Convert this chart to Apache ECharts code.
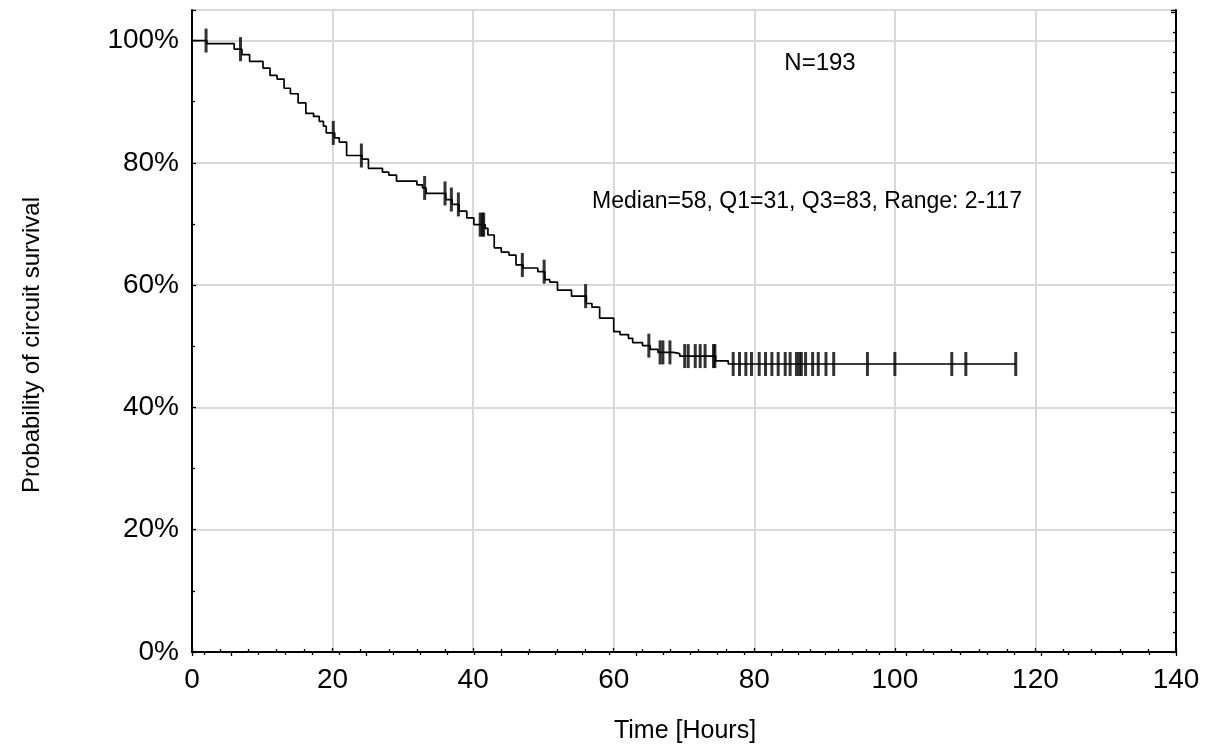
<!DOCTYPE html>
<html>
<head>
<meta charset="utf-8">
<script src="https://cdn.jsdelivr.net/npm/echarts@6/dist/echarts.min.js"></script>
<style>
  html, body { margin: 0; padding: 0; background: #fff; }
  #chart { width: 1213px; height: 749px; }
</style>
</head>
<body>
<div id="chart"></div>
<script>
// Kaplan-Meier step points: time (hours) and survival (%) after each drop
var kmTimes = [0, 2.1, 6, 7.1, 8.2, 10.1, 11.1, 12.1, 13.1, 14, 15.1, 16.2, 17.3, 18.1, 18.7,
  19.1, 20.3, 20.95, 22, 24.2, 25.1, 27.1, 28, 29.1, 32, 32.8, 33.3, 36.1, 37, 38,
  39.1, 40.1, 41.7, 42.1, 43, 44, 45.1, 46.1, 47.1, 49.2, 50.2, 50.9, 52, 54, 56.1,
  56.9, 58, 60, 60.9, 62.1, 62.7, 64.1, 65.2, 66.3, 68.5, 69.4, 74.5, 76.3, 117.2];
var kmSurv = [100, 99.5, 98.6, 97.7, 96.6, 95.5, 94.3, 93.7, 92.2, 91.3, 89.8, 88.1, 87.6, 86.8, 86.0,
  84.9, 84.1, 83.4, 81.2, 80.6, 79.1, 78.5, 78.0, 77.0, 76.4, 75.9, 75.0, 74.0, 73.2, 72.1,
  71.0, 69.9, 69.3, 68.2, 66.1, 65.4, 64.9, 63.3, 62.8, 62.2, 60.9, 60.5, 59.2, 58.2, 57.0,
  56.4, 54.6, 52.4, 51.9, 51.3, 50.6, 50.1, 49.5, 49.0, 48.8, 48.4, 47.6, 47.1, 47.1];
// Censored observation times (hours)
var censorTimes = [2, 6.9, 20.1, 24.1, 33.1, 36, 36.9, 37.9, 41, 41.3, 41.5, 47, 50.1, 56, 65,
  66.6, 67, 68, 70.1, 70.6, 71.6, 72.3, 73, 74.2, 74.4, 77.0, 77.9, 78.8, 79.6, 80.7,
  81.6, 82.5, 83.4, 84.4, 85.1, 86.0, 86.4, 86.7, 87.3, 88.3, 89.1, 90.2, 91.3, 96.1,
  100.0, 108.1, 110.1, 117.2];
var xTicks = [0, 20, 40, 60, 80, 100, 120, 140];
var yTicks = [0, 20, 40, 60, 80, 100];
var annotN = 'N=193';
var annotStats = 'Median=58, Q1=31, Q3=83, Range: 2-117';

function survAt(t) {
  var s = kmSurv[0];
  for (var i = 0; i < kmTimes.length; i++) { if (kmTimes[i] <= t) s = kmSurv[i]; }
  return s;
}
var lineData = kmTimes.map(function (t, i) { return [t, kmSurv[i]]; });
var censorData = censorTimes.map(function (t) { return [t, survAt(t)]; });

var FONT = '"Liberation Sans", Arial, sans-serif';
var chart = echarts.init(document.getElementById('chart'), null, { renderer: 'canvas' });
chart.setOption({
  backgroundColor: '#fff',
  animation: false,
  grid: { left: 192, right: 37, top: 10, bottom: 97, containLabel: false },
  xAxis: [{
    type: 'value', min: 0, max: 140, interval: 20, position: 'bottom',
    axisLine: { lineStyle: { color: '#000', width: 2 } },
    axisTick: { inside: true, length: 4, lineStyle: { color: '#000', width: 1.3 } },
    minorTick: { show: true, splitNumber: 5, length: 3, lineStyle: { color: '#000', width: 1.3 } },
    axisLabel: { color: '#000', fontSize: 28, fontFamily: FONT, margin: 14,
      formatter: function (v) { return xTicks.indexOf(v) >= 0 ? String(v) : ''; } },
    splitLine: { show: true, lineStyle: { color: '#d9d9d9', width: 2 } }
  }, {
    type: 'value', position: 'top', inverse: true, min: 0, max: 36.44, interval: 5,
    axisLine: { show: true, lineStyle: { color: '#000', width: 2 } },
    axisTick: { show: true, inside: true, length: 4, lineStyle: { color: '#000', width: 1.3 } },
    minorTick: { show: true, splitNumber: 5, length: 3, lineStyle: { color: '#000', width: 1.3 } },
    axisLabel: { show: false }, splitLine: { show: false }
  }],
  yAxis: [{
    type: 'value', min: 0, max: 105, interval: 20, position: 'left',
    axisLine: { show: true, lineStyle: { color: '#000', width: 2 } },
    axisTick: { show: true, inside: true, length: 4, lineStyle: { color: '#000', width: 1.3 } },
    minorTick: { show: true, splitNumber: 2, length: 3, lineStyle: { color: '#000', width: 1.3 } },
    axisLabel: { color: '#000', fontSize: 28, fontFamily: FONT, margin: 13, showMaxLabel: false,
      formatter: function (v) { return yTicks.indexOf(v) >= 0 ? v + '%' : ''; } },
    splitLine: { show: true, lineStyle: { color: '#d9d9d9', width: 2 } }
  }, {
    type: 'value', position: 'right', min: 0, max: 8.025, interval: 1,
    axisLine: { show: true, lineStyle: { color: '#000', width: 2 } },
    axisTick: { show: true, inside: true, length: 5, lineStyle: { color: '#000', width: 1.3 } },
    minorTick: { show: true, splitNumber: 4, length: 3, lineStyle: { color: '#000', width: 1.3 } },
    axisLabel: { show: false }, splitLine: { show: false }
  }],
  series: [{
    type: 'line', xAxisIndex: 0, yAxisIndex: 0, step: 'end', data: lineData,
    symbol: 'none', lineStyle: { color: '#000', width: 1.7 }, z: 3
  }, {
    type: 'scatter', xAxisIndex: 0, yAxisIndex: 0, data: censorData,
    symbol: 'rect', symbolSize: [3, 24], itemStyle: { color: '#000' }, z: 4
  }],
  graphic: [
    { type: 'text', z: 100, x: 820, y: 63, style: { text: annotN, fontSize: 24, fontFamily: FONT, fill: '#000', textAlign: 'center', textVerticalAlign: 'middle' } },
    { type: 'text', z: 100, x: 807, y: 202, style: { text: annotStats, fontSize: 23, fontFamily: FONT, fill: '#000', textAlign: 'center', textVerticalAlign: 'middle' } },
    { type: 'text', z: 100, x: 32, y: 345, rotation: Math.PI / 2, style: { text: 'Probability of circuit survival', fontSize: 24, fontFamily: FONT, fill: '#000', textAlign: 'center', textVerticalAlign: 'middle' } },
    { type: 'text', z: 100, x: 685, y: 731, style: { text: 'Time [Hours]', fontSize: 25, fontFamily: FONT, fill: '#000', textAlign: 'center', textVerticalAlign: 'middle' } }
  ]
});
</script>
</body>
</html>
